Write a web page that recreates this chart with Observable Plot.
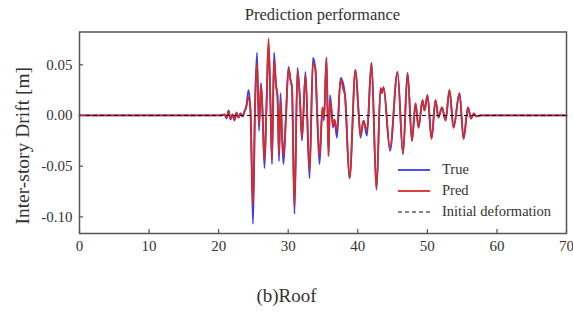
<!DOCTYPE html>
<html><head><meta charset="utf-8">
<script src="https://cdn.jsdelivr.net/npm/d3@7"></script>
<script src="https://cdn.jsdelivr.net/npm/@observablehq/plot@0.6"></script>
<style>
body{margin:0;background:#fff;}
#wrap{position:relative;width:573px;height:320px;font-family:"Liberation Serif","Times New Roman",serif;color:#333;overflow:hidden;}
#chart{position:absolute;left:0;top:0;}
#title{position:absolute;left:79px;width:487px;top:6px;text-align:center;font-size:16.5px;line-height:18px;}
#caption{position:absolute;left:0;width:573px;top:286px;text-align:center;font-size:19px;line-height:20px;}
#legend{position:absolute;left:398px;top:159px;font-size:14.5px;}
.row{display:flex;align-items:center;height:21px;}
.row svg{margin-right:12px;display:block;}
</style></head>
<body><div id="wrap"><div id="chart"></div><div id="title">Prediction performance</div><div id="legend"></div><div id="caption">(b)Roof</div></div>
<script>
const time = [
  0, 20.27, 20.84, 21.13, 21.42, 21.70, 21.99, 22.28, 22.57, 22.85,
  23.14, 23.43, 23.72, 24.00, 24.29, 24.58, 24.94, 25.23, 25.51, 25.80,
  26.09, 26.30, 26.59, 26.88, 27.17, 27.45, 27.67, 27.96, 28.24, 28.46,
  28.68, 28.89, 29.11, 29.32, 29.68, 30.04, 30.33, 30.54, 30.90, 31.33,
  31.69, 31.98, 32.48, 33.06, 33.56, 33.92, 34.14, 34.50, 34.93, 35.14,
  35.50, 35.79, 36.01, 36.22, 36.44, 36.65, 37.01, 37.52, 37.95, 38.16,
  38.81, 39.67, 40.10, 40.39, 40.82, 41.32, 41.97, 42.69, 43.27, 43.48,
  43.70, 44.63, 45.71, 46.50, 47.15, 47.79, 48.30, 48.73, 49.30, 49.59,
  50.02, 50.60, 51.17, 51.60, 52.10, 52.61, 53.18, 53.76, 54.62, 55.20,
  55.84, 56.27, 56.70, 57.06, 57.64, 70
];
const trueDrift = [
  0, 0, 0.001, -0.003, 0.005, -0.004, 0.001, -0.005, 0.003, -0.002,
  0.002, -0.001, 0.004, 0.010, 0.025, 0.004, -0.107, 0.010, 0.062, -0.015,
  0.032, 0.005, -0.052, 0.010, 0.070, 0.010, -0.048, 0.062, 0.030, 0.018,
  -0.045, 0.022, -0.020, -0.048, 0.000, 0.048, 0.035, 0.028, -0.097, 0.047,
  0.015, -0.025, 0.043, -0.062, 0.057, 0.045, 0.005, -0.048, 0.008, -0.005,
  0.057, -0.040, 0.020, 0.005, -0.012, -0.005, -0.022, 0.037, 0.030, 0.020,
  -0.062, 0.045, 0.005, -0.022, -0.005, -0.020, 0.052, -0.073, 0.027, 0.022,
  0.028, -0.035, 0.043, -0.038, 0.042, -0.025, 0.012, -0.012, 0.015, 0.005,
  0.020, -0.023, 0.015, -0.002, 0.008, -0.005, 0.025, -0.012, 0.022, -0.023,
  0.008, -0.003, 0.002, -0.001, 0, 0
];
const predDrift = [
  0, 0, 0.001, -0.002, 0.004, -0.003, 0.001, -0.004, 0.002, -0.002,
  0.002, -0.001, 0.004, 0.009, 0.018, 0.004, -0.088, 0.008, 0.052, -0.010,
  0.030, 0.005, -0.045, 0.010, 0.076, 0.012, -0.044, 0.055, 0.030, 0.020,
  -0.038, 0.015, -0.018, -0.040, 0.000, 0.046, 0.035, 0.028, -0.090, 0.044,
  0.015, -0.022, 0.040, -0.055, 0.052, 0.045, 0.005, -0.040, 0.008, -0.003,
  0.057, -0.040, 0.015, 0.005, -0.010, -0.004, -0.015, 0.035, 0.025, 0.020,
  -0.062, 0.045, 0.005, -0.020, -0.005, -0.015, 0.052, -0.073, 0.027, 0.022,
  0.028, -0.032, 0.043, -0.038, 0.042, -0.025, 0.012, -0.012, 0.015, 0.005,
  0.020, -0.023, 0.015, -0.002, 0.008, -0.005, 0.025, -0.012, 0.022, -0.023,
  0.008, -0.003, 0.002, -0.001, 0, 0
];
const initialDeformation = [0];
const xTicks = [0, 10, 20, 30, 40, 50, 60, 70];
const yTicks = [0.05, 0, -0.05, -0.10];
const yTickLabels = ["0.05", "0.00", "-0.05", "-0.10"];
const seriesNames = ["True", "Pred", "Initial deformation"];
const seriesColors = ["#3b3bf2", "#d42c28", "#111111"];
const yLabel = "Inter-story Drift [m]";

const W = 573, H = 265;
const mL = 79, mR = 7, mT = 31.5, mB = 32;
const pw = W - mL - mR, ph = H - mT - mB;

const rows = time.map((t, i) => ({t, tr: trueDrift[i], pr: predDrift[i]}));

const chart = Plot.plot({
  width: W, height: H,
  marginLeft: mL, marginRight: mR, marginTop: mT, marginBottom: mB,
  style: {fontFamily: "'Liberation Serif', 'Times New Roman', serif", fontSize: "15px", color: "#333", background: "transparent"},
  x: {domain: [0, 70]},
  y: {domain: [-0.1164, 0.0823]},
  marks: [
    Plot.line(rows, {x: "t", y: "tr", stroke: seriesColors[0], strokeWidth: 1.8, curve: "monotone-x"}),
    Plot.line(rows, {x: "t", y: "pr", stroke: seriesColors[1], strokeWidth: 1.8, curve: "monotone-x"}),
    Plot.ruleY(initialDeformation, {stroke: seriesColors[2], strokeWidth: 1.1, strokeDasharray: "4,3"}),
    Plot.tickY(yTicks, {y: d => d, insetRight: pw - 4, stroke: "#555", strokeWidth: 1.2}),
    Plot.tickX(xTicks, {x: d => d, insetTop: ph - 4, stroke: "#555", strokeWidth: 1.2}),
    Plot.axisY(yTicks, {tickSize: 0, tickPadding: 7, label: null, tickFormat: d => yTickLabels[yTicks.indexOf(d)]}),
    Plot.axisX(xTicks, {tickSize: 0, tickPadding: 7, label: null}),
    Plot.frame({stroke: "#555", strokeWidth: 1.5}),
    Plot.text([yLabel], {frameAnchor: "left", textAnchor: "middle", dx: -57, dy: 13, rotate: -90, fontSize: 19.5, fill: "#333"})
  ]
});
document.getElementById("chart").appendChild(chart);

const legend = d3.select("#legend");
seriesNames.forEach((name, i) => {
  const row = legend.append("div").attr("class", "row");
  const s = row.append("svg").attr("width", 32).attr("height", 6);
  s.append("line").attr("x1", 0).attr("x2", 32).attr("y1", 3).attr("y2", 3)
    .attr("stroke", seriesColors[i]).attr("stroke-width", i === 2 ? 1.2 : 1.8)
    .attr("stroke-dasharray", i === 2 ? "4,3" : null);
  row.append("span").text(name);
});
</script>
</body></html>
